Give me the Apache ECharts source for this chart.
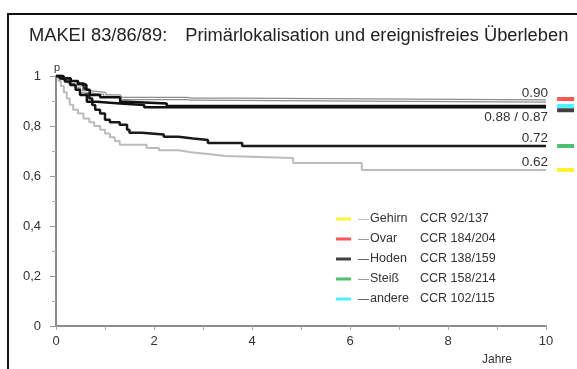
<!DOCTYPE html>
<html>
<head>
<meta charset="utf-8">
<script src="https://cdn.jsdelivr.net/npm/echarts@6/dist/echarts.min.js"></script>
<style>
  html, body { margin: 0; padding: 0; background: #fff; }
  #chart { width: 577px; height: 369px; }
</style>
</head>
<body>
<div id="chart"></div>
<script>
// Data (Kaplan-Meier steps: year, p)
var gehirnX = [0, 0.05, 0.1, 0.16, 0.22, 0.28, 0.35, 0.45, 0.56, 0.68, 0.78, 0.9, 1.0, 1.1, 1.2, 1.3, 1.85, 2.1, 2.5, 2.75, 3.1, 3.45, 4.84, 6.24, 10];
var gehirnY = [1, 0.98, 0.96, 0.935, 0.91, 0.885, 0.865, 0.85, 0.83, 0.815, 0.8, 0.785, 0.77, 0.755, 0.74, 0.725, 0.712, 0.703, 0.695, 0.688, 0.68, 0.672, 0.652, 0.624, 0.624];

var ovarX = [0, 0.12, 0.25, 0.4, 0.52, 0.69, 1.0, 1.31, 2.67, 2.75, 10];
var ovarY = [1, 0.99, 0.975, 0.957, 0.937, 0.93, 0.92, 0.91, 0.908, 0.9, 0.9];

var andereX = [0, 0.15, 0.3, 0.45, 0.55, 0.62, 0.69, 0.9, 1.31, 1.44, 2.26, 10];
var andereY = [1, 0.99, 0.98, 0.97, 0.964, 0.945, 0.924, 0.915, 0.897, 0.89, 0.88, 0.88];

var hodenX = [0, 0.08, 0.18, 0.29, 0.4, 0.49, 0.63, 0.83, 1.31, 1.8, 10];
var hodenY = [1, 0.99, 0.978, 0.964, 0.945, 0.924, 0.897, 0.89, 0.884, 0.875, 0.875];

var steissX = [0, 0.15, 0.3, 0.45, 0.56, 0.62, 0.68, 0.74, 0.8, 0.9, 1.0, 1.1, 1.3, 1.45, 1.5, 1.75, 2.2, 2.5, 2.8, 3.1, 3.8, 10];
var steissY = [1, 0.99, 0.975, 0.965, 0.95, 0.93, 0.91, 0.884, 0.865, 0.85, 0.825, 0.815, 0.805, 0.785, 0.773, 0.766, 0.757, 0.75, 0.744, 0.732, 0.72, 0.72];

var groupNames = ['Gehirn', 'Ovar', 'Hoden', 'Steiß', 'andere'];
var groupCCR = ['CCR 92/137', 'CCR 184/204', 'CCR 138/159', 'CCR 158/214', 'CCR 102/115'];
var groupColors = ['#ffee00', '#ff2a2a', '#111111', '#22b14c', '#22eeff'];
var groupEnd = [0.624, 0.9, 0.875, 0.72, 0.88];
var markOffset = [0, -2, 3, 0, 0];

var endLabels = { Gehirn: '0.62', Ovar: '0.90', Hoden: '0.88 / 0.87', 'Steiß': '0.72' };

var yTickLabels = ['0', '0,2', '0,4', '0,6', '0,8', '1'];
var xTickLabels = ['0', '2', '4', '6', '8', '10'];

function pairs(xs, ys) {
    var out = [];
    for (var i = 0; i < xs.length; i++) out.push([xs[i], ys[i]]);
    return out;
}

function curve(name, data, color, width, z, endText, below) {
    var s = {
        name: name,
        type: 'line',
        step: 'end',
        data: data,
        symbol: 'none',
        silent: true,
        z: z,
        lineStyle: { color: color, width: width }
    };
    if (endText) {
        s.endLabel = {
            show: true,
            formatter: endText,
            align: 'right',
            verticalAlign: below ? 'top' : 'bottom',
            distance: 0,
            offset: [2, below ? 3 : -1],
            color: '#333',
            fontSize: 13.5,
            fontFamily: 'Liberation Sans, Arial'
        };
    }
    return s;
}

var series = [
    curve('Gehirn-Kurve', pairs(gehirnX, gehirnY), '#bcbcbc', 2, 2, endLabels.Gehirn),
    curve('Steiß-Kurve', pairs(steissX, steissY), '#1a1a1a', 2.5, 3, endLabels['Steiß']),
    curve('Ovar-Kurve', pairs(ovarX, ovarY), '#8c8c8c', 3.6, 4, endLabels.Ovar),
    curve('Ovar-Kurve-innen', pairs(ovarX, ovarY), '#ffffff', 1.2, 5),
    curve('Hoden-Kurve', pairs(hodenX, hodenY), '#111', 2.5, 6, endLabels.Hoden, true),
    curve('andere-Kurve', pairs(andereX, andereY), '#111', 2.5, 7)
];

// colour marks to the right of the curve ends (also used by the legend)
for (var g = 0; g < groupNames.length; g++) {
    series.push({
        name: groupNames[g],
        type: 'scatter',
        data: [[10.4, groupEnd[g]]],
        symbol: 'rect',
        symbolSize: [17, 4],
        symbolOffset: [0, markOffset[g]],
        clip: false,
        silent: true,
        itemStyle: { color: groupColors[g] }
    });
}

var dashColor = { Gehirn: 'dl', Ovar: 'dm', Hoden: 'dk', 'Steiß': 'dm', andere: 'dk' };

var chart = echarts.init(document.getElementById('chart'));
var option = {
    animation: false,
    backgroundColor: '#fff',
    textStyle: { fontFamily: 'Liberation Sans, Arial' },
    title: {
        text: '{a|MAKEI 83/86/89:}{b|Primärlokalisation und ereignisfreies Überleben}',
        left: 24,
        top: 22,
        textStyle: {
            fontSize: 18.3,
            fontWeight: 'normal',
            color: '#222',
            fontFamily: 'Liberation Sans, Arial',
            rich: {
                a: { fontSize: 18.3, color: '#222' },
                b: { fontSize: 18.3, color: '#222', padding: [0, 0, 0, 18] }
            }
        }
    },
    graphic: [{
        type: 'rect',
        shape: { x: 8, y: 14, width: 620, height: 420 },
        style: { fill: null, stroke: '#111', lineWidth: 2 },
        silent: true
    }],
    legend: {
        orient: 'vertical',
        left: 331,
        top: 207,
        icon: 'rect',
        itemWidth: 15,
        itemHeight: 3,
        itemGap: 6,
        selectedMode: false,
        data: groupNames,
        formatter: function (name) {
            var idx = groupNames.indexOf(name);
            return '{' + dashColor[name] + '|—}{n|' + name + '}{c|' + groupCCR[idx] + '}';
        },
        textStyle: {
            fontSize: 12.5,
            color: '#333',
            lineHeight: 14,
            rich: {
                dl: { color: '#b0b0b0', fontSize: 11, padding: [0, 1, 0, 2] },
                dm: { color: '#808080', fontSize: 11, padding: [0, 1, 0, 2] },
                dk: { color: '#333', fontSize: 11, padding: [0, 1, 0, 2] },
                n: { width: 50, color: '#333', fontSize: 12.5 },
                c: { color: '#333', fontSize: 12.5 }
            }
        }
    },
    grid: { left: 56, right: 31, top: 76, bottom: 43 },
    xAxis: {
        type: 'value',
        min: 0,
        max: 10,
        interval: 2,
        name: 'Jahre',
        nameLocation: 'end',
        nameGap: 0,
        nameTextStyle: { align: 'right', verticalAlign: 'top', padding: [28, 34, 0, 0], color: '#333', fontSize: 12 },
        axisLine: { lineStyle: { color: '#8c8c8c', width: 2 } },
        axisTick: { show: true, length: 4, lineStyle: { color: '#aaa' } },
        minorTick: { show: true, splitNumber: 2, length: 4, lineStyle: { color: '#aaa' } },
        splitLine: { show: false },
        axisLabel: {
            color: '#333',
            fontSize: 13,
            margin: 9,
            formatter: function (v) { return xTickLabels[Math.round(v / 2)]; }
        }
    },
    yAxis: {
        type: 'value',
        min: 0,
        max: 1,
        interval: 0.2,
        name: 'p',
        nameLocation: 'end',
        nameGap: 3,
        nameTextStyle: { color: '#333', fontSize: 11, align: 'left', padding: [0, 0, 0, -2] },
        axisLine: { show: true, lineStyle: { color: '#8c8c8c', width: 2 } },
        axisTick: { show: true, length: 6, lineStyle: { color: '#999' } },
        minorTick: { show: true, splitNumber: 2, length: 4, lineStyle: { color: '#aaa' } },
        splitLine: { show: false },
        axisLabel: {
            color: '#333',
            fontSize: 13,
            margin: 15,
            formatter: function (v) { return yTickLabels[Math.round(v * 5)]; }
        }
    },
    series: series
};
chart.setOption(option);
</script>
</body>
</html>
